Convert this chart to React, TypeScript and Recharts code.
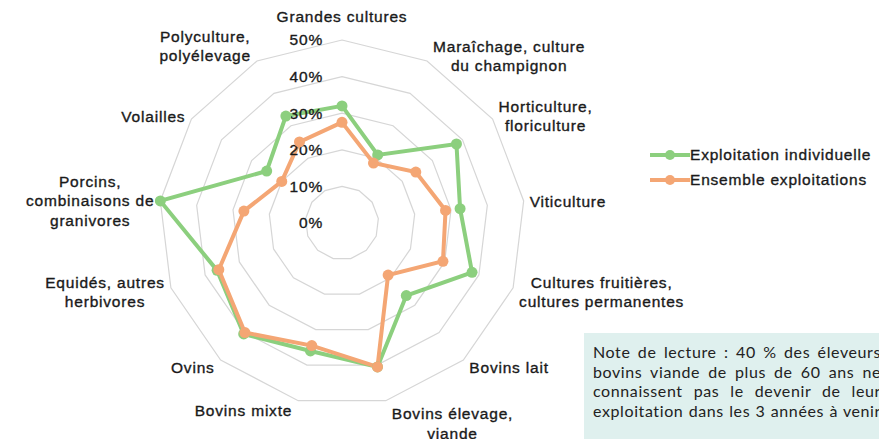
import { Legend, PolarAngleAxis, PolarGrid, PolarRadiusAxis, Radar, RadarChart } from "recharts";

// Share of farmers over 60 who don't know what becomes of their farm,
// by production type. Spiky green = individual farms, orange = all farms.

const categories = [
  "Grandes cultures",
  "Maraîchage, culture\ndu champignon",
  "Horticulture,\nfloriculture",
  "Viticulture",
  "Cultures fruitières,\ncultures permanentes",
  "Bovins lait",
  "Bovins élevage,\nviande",
  "Bovins mixte",
  "Ovins",
  "Equidés, autres\nherbivores",
  "Porcins,\ncombinaisons de\ngranivores",
  "Volailles",
  "Polyculture,\npolyélevage",
];
const individuelle = [32, 21, 38, 32.5, 38, 26.5, 40.5, 36, 40.5, 36.5, 50, 25, 33];
const ensemble = [27.5, 18.5, 24.5, 28.5, 29.5, 19, 40.5, 34.5, 40, 36, 27, 20, 25];
const seriesNames = ["Exploitation individuelle", "Ensemble exploitations"];
const noteLines = [
  "Note de lecture : 40 % des éleveurs",
  "bovins viande de plus de 60 ans ne",
  "connaissent pas le devenir de leur",
  "exploitation dans les 3 années à venir",
];

const data = categories.map((name, i) => ({
  name,
  indiv: individuelle[i],
  ens: ensemble[i],
}));

const GREEN = "#8ccf7e";
const ORANGE = "#f4a674";
const INK = "#1a1a1a";
const FONT = '"Liberation Sans", Arial, sans-serif';
const FONT_SIZE = 15.5;
const LETTER = 0.8;
const LINE_H = 19.5;
// the reference text is a touch heavier than plain Liberation Sans
const THICK = { stroke: INK, strokeWidth: 0.35 };

const CX = 342;
const CY = 223;
const R = 183;

// vertical offset of each label block centre from its vertex (Excel-ish placement)
const LABEL_DY = [-23, -5, -3, 1, 4, 8, 23, 10, 8, 4, 0, -2, -15];
const LABEL_GAP = 6;

let measureCtx: CanvasRenderingContext2D | null = null;
function textWidth(s: string) {
  if (!measureCtx) {
    measureCtx = document.createElement("canvas").getContext("2d");
    if (measureCtx) measureCtx.font = `${FONT_SIZE}px "Liberation Sans"`;
  }
  const w = measureCtx ? measureCtx.measureText(s).width : s.length * 8;
  return w + s.length * LETTER;
}

function AngleTick(props: any) {
  const { payload, index } = props;
  const rad = (-payload.coordinate * Math.PI) / 180;
  const vx = CX + R * Math.cos(rad);
  const vy = CY + R * Math.sin(rad);
  const lines = String(payload.value).split("\n");
  const w = Math.max(...lines.map(textWidth));
  const side = Math.cos(rad);
  let x = vx;
  if (side > 0.05) x = vx + LABEL_GAP + w / 2;
  else if (side < -0.05) x = vx - LABEL_GAP - w / 2;
  const top = vy + LABEL_DY[index] - ((lines.length - 1) * LINE_H) / 2;
  return (
    <text
      textAnchor="middle"
      fill={INK}
      fontFamily={FONT}
      fontSize={FONT_SIZE}
      letterSpacing={LETTER}
      {...THICK}
    >
      {lines.map((l, k) => (
        <tspan key={k} x={x} y={top + k * LINE_H} dy="0.35em">
          {l}
        </tspan>
      ))}
    </text>
  );
}

function RadiusTick(props: any) {
  const { x, y, payload } = props;
  return (
    <text
      x={x - 19}
      y={y}
      dy="0.35em"
      textAnchor="end"
      fill={INK}
      fontFamily={FONT}
      fontSize={FONT_SIZE}
      letterSpacing={LETTER}
      {...THICK}
    >
      {`${payload.value}%`}
    </text>
  );
}

const makeDot = (color: string) => (p: any) => (
  <circle key={`${color}-${p.index}`} cx={p.cx} cy={p.cy} r={5.5} fill={color} />
);

function renderLegend(props: any) {
  const items = [...(props.payload || [])].sort(
    (a: any, b: any) => seriesNames.indexOf(a.value) - seriesNames.indexOf(b.value)
  );
  return (
    <div>
      {items.map((it: any) => (
        <div
          key={it.value}
          style={{ display: "flex", alignItems: "center", height: 25 }}
        >
          <svg width={40} height={12} style={{ flex: "none" }}>
            <line x1={0} y1={6} x2={40} y2={6} stroke={it.color} strokeWidth={4} />
            <circle cx={20} cy={6} r={5} fill={it.color} />
          </svg>
          <span
            style={{
              fontFamily: FONT,
              fontSize: FONT_SIZE,
              letterSpacing: LETTER,
              color: INK,
              whiteSpace: "nowrap",
              WebkitTextStroke: "0.35px " + INK,
            }}
          >
            {it.value}
          </span>
        </div>
      ))}
    </div>
  );
}

export default function App() {
  return (
    <div
      style={{
        position: "absolute",
        left: 0,
        top: 0,
        width: 879,
        height: 439,
        overflow: "hidden",
        background: "#fff",
      }}
    >
      <RadarChart
        width={879}
        height={439}
        data={data}
        cx={CX}
        cy={CY}
        outerRadius={R}
        margin={{ top: 0, right: 0, bottom: 0, left: 0 }}
      >
        <PolarGrid gridType="polygon" radialLines={false} stroke="#d6d6d6" strokeWidth={1.2} />
        <PolarAngleAxis dataKey="name" tick={AngleTick} tickLine={false} axisLine={false} />
        <PolarRadiusAxis
          angle={90}
          domain={[0, 50]}
          tickCount={6}
          axisLine={false}
          tickLine={false}
          tick={RadiusTick}
        />
        <Radar
          name={seriesNames[0]}
          dataKey="indiv"
          stroke={GREEN}
          strokeWidth={4}
          fill="none"
          fillOpacity={0}
          dot={makeDot(GREEN)}
          isAnimationActive={false}
        />
        <Radar
          name={seriesNames[1]}
          dataKey="ens"
          stroke={ORANGE}
          strokeWidth={4}
          fill="none"
          fillOpacity={0}
          dot={makeDot(ORANGE)}
          isAnimationActive={false}
        />
        <Legend
          content={renderLegend}
          wrapperStyle={{ position: "absolute", left: 650, top: 142, width: 240 }}
        />
      </RadarChart>
      <div
        style={{
          position: "absolute",
          left: 584,
          top: 333,
          width: 320,
          height: 120,
          background: "#dff0ee",
          boxSizing: "border-box",
          padding: "9px 0 0 9px",
          fontFamily: "Lato, sans-serif",
          fontSize: 16,
          letterSpacing: 0.6,
          color: "#222",
          lineHeight: "19.5px",
        }}
      >
        {noteLines.map((l) => (
          <div
            key={l}
            style={{ width: 288, textAlign: "justify", textAlignLast: "justify", whiteSpace: "nowrap" }}
          >
            {l}
          </div>
        ))}
      </div>
    </div>
  );
}
